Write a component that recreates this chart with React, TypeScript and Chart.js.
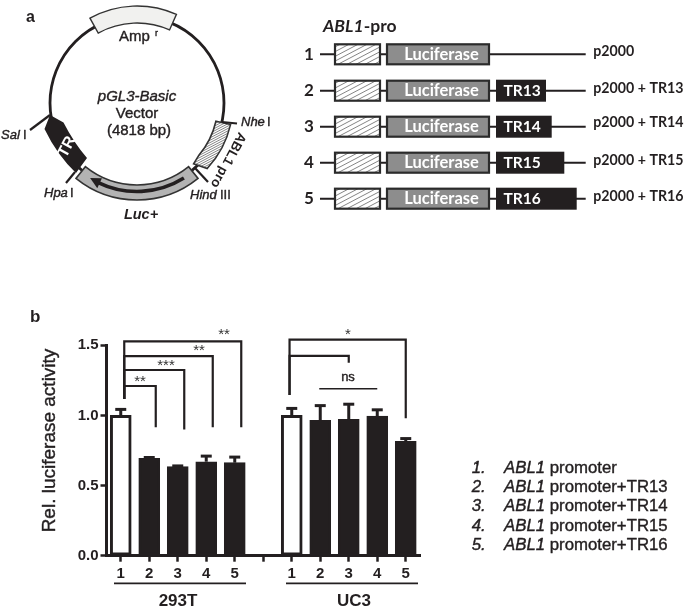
import React, { useEffect, useRef } from "react";
import { Chart, registerables } from "chart.js";

Chart.register(...registerables);

const INK = "#231f20";
const SANS = "'Liberation Sans', Arial, sans-serif";
const LATO = "Lato, 'Open Sans', sans-serif";

const categories = ["1", "2", "3", "4", "5", "", "1", "2", "3", "4", "5"];
const means = [1.0, 0.695, 0.635, 0.67, 0.663, null, 1.0, 0.965, 0.972, 0.995, 0.815];
const errorTops = [1.043, 0.7, 0.64, 0.71, 0.703, null, 1.05, 1.07, 1.08, 1.04, 0.835];
const barFills = ["#ffffff", INK, INK, INK, INK, INK, "#ffffff", INK, INK, INK, INK];
const yTicks = [0, 0.5, 1, 1.5];

const sigLabels = ["**", "***", "**", "**", "*"];
const sigFrom = [0, 0, 0, 0, 6];
const sigTo = [1, 2, 3, 4, 10];
const sigLevels = [1.21, 1.324, 1.423, 1.528, 1.54];
const sigDrops = [0.915, 0.9, 0.915, 0.915, 0.98];
const sigStems = [1.117, 1.117, 1.117, 1.117, 1.145];

const legendNumbers = ["1.", "2.", "3.", "4.", "5."];
const legendSuffixes = [" promoter", " promoter+TR13", " promoter+TR14", " promoter+TR15", " promoter+TR16"];
const constructNumbers = ["1", "2", "3", "4", "5"];
const constructTags = ["", "TR13", "TR14", "TR15", "TR16"];
const constructNames = ["p2000", "p2000 + TR13", "p2000 + TR14", "p2000 + TR15", "p2000 + TR16"];

const CX = 137;
const CY = 103;
const rad = (d: number) => ((d - 90) * Math.PI) / 180;
const pt = (r: number, d: number): [number, number] => [CX + r * Math.cos(rad(d)), CY + r * Math.sin(rad(d))];

function text(ctx: CanvasRenderingContext2D, s: string, x: number, y: number, font: string, align: CanvasTextAlign = "left", color = INK) {
  ctx.font = font;
  ctx.textAlign = align;
  ctx.textBaseline = "middle";
  ctx.fillStyle = color;
  ctx.fillText(s, x, y);
  if (font.includes("Liberation") && !font.includes("bold")) {
    ctx.lineWidth = 0.4;
    ctx.strokeStyle = color;
    ctx.lineJoin = "round";
    ctx.strokeText(s, x, y);
  }
}

function line(ctx: CanvasRenderingContext2D, pts: [number, number][], width = 2.5, color = INK) {
  ctx.beginPath();
  pts.forEach((p, i) => (i ? ctx.lineTo(p[0], p[1]) : ctx.moveTo(p[0], p[1])));
  ctx.lineWidth = width;
  ctx.strokeStyle = color;
  ctx.lineCap = "butt";
  ctx.lineJoin = "miter";
  ctx.stroke();
}

function hatch(ctx: CanvasRenderingContext2D, x0: number, y0: number, x1: number, y1: number, step: number) {
  ctx.lineWidth = 0.9;
  ctx.strokeStyle = "#777";
  ctx.beginPath();
  for (let x = x0 - 150; x < x1 + 20; x += step) {
    ctx.moveTo(x, y1);
    ctx.lineTo(x + (y1 - y0) * 1.9, y0);
  }
  ctx.stroke();
}

function band(ctx: CanvasRenderingContext2D, r0: number, r1: number, a0: number, a1: number) {
  ctx.beginPath();
  ctx.arc(CX, CY, r1, rad(a0), rad(a1));
  ctx.arc(CX, CY, r0, rad(a1), rad(a0), true);
  ctx.closePath();
}

function proPath(ctx: CanvasRenderingContext2D) {
  ctx.beginPath();
  ctx.arc(CX, CY, 96, rad(103), rad(133));
  ctx.lineTo(...pt(83, 137));
  ctx.arc(CX, CY, 81, rad(130), rad(103), true);
  ctx.closePath();
}

function drawPlasmid(ctx: CanvasRenderingContext2D) {
  ctx.beginPath();
  ctx.arc(CX, CY, 87, 0, Math.PI * 2);
  ctx.lineWidth = 2.8;
  ctx.strokeStyle = INK;
  ctx.stroke();

  // Amp r
  band(ctx, 80, 97, -29, 24);
  ctx.fillStyle = "#f1f1ef";
  ctx.fill();
  ctx.lineWidth = 1.4;
  ctx.strokeStyle = "#333";
  ctx.stroke();

  // ABL1 pro, hatched
  proPath(ctx);
  ctx.fillStyle = "#fff";
  ctx.fill();
  ctx.save();
  ctx.clip();
  hatch(ctx, 190, 110, 240, 180, 4.5);
  ctx.restore();
  proPath(ctx);
  ctx.lineWidth = 1.6;
  ctx.strokeStyle = "#333";
  ctx.stroke();

  // TR
  ctx.beginPath();
  ctx.moveTo(50, 115);
  ctx.lineTo(63.5, 122.5);
  ctx.quadraticCurveTo(74, 143, 87, 158);
  ctx.lineTo(76, 173);
  ctx.quadraticCurveTo(57, 155, 44.5, 129);
  ctx.closePath();
  ctx.fillStyle = INK;
  ctx.fill();
  ctx.save();
  ctx.translate(67, 147);
  ctx.rotate((-62 * Math.PI) / 180);
  text(ctx, "TR", 0, 0, `bold 16px ${SANS}`, "center", "#fff");
  ctx.restore();

  // Luc+
  band(ctx, 82, 97, 141, 219);
  ctx.fillStyle = "#b3b3b3";
  ctx.fill();
  ctx.lineWidth = 1.6;
  ctx.strokeStyle = "#333";
  ctx.stroke();
  ctx.beginPath();
  ctx.arc(CX, CY, 88.5, rad(148), rad(206));
  ctx.lineWidth = 3.6;
  ctx.strokeStyle = INK;
  ctx.stroke();
  const head = pt(88.5, 212);
  const h1 = pt(94, 205);
  const h2 = pt(83, 205);
  ctx.beginPath();
  ctx.moveTo(...head);
  ctx.lineTo(...h1);
  ctx.lineTo(...h2);
  ctx.closePath();
  ctx.fillStyle = INK;
  ctx.fill();

  // Restriction sites
  line(ctx, [[30, 130], [50, 115]], 2.2);
  line(ctx, [[66, 183], [75, 172]], 2.2);
  line(ctx, [[195, 168], [208, 182]], 2.2);
  line(ctx, [[222, 122], [237, 123.5]], 2.2);

  const lab = `13px ${SANS}`;
  text(ctx, "Amp", 119, 37, `15px ${SANS}`);
  text(ctx, "r", 155, 34, `9px ${SANS}`);
  text(ctx, "pGL3-Basic", 137, 97, `italic 15px ${SANS}`, "center");
  text(ctx, "Vector", 137, 114, `15px ${SANS}`, "center");
  text(ctx, "(4818 bp)", 139, 131, `15px ${SANS}`, "center");
  text(ctx, "Luc+", 141, 215, `italic bold 14.5px ${SANS}`, "center");
  text(ctx, "Sal", 1, 135, `italic ${lab}`);
  text(ctx, "I", 23, 135, lab);
  text(ctx, "Hpa", 44, 193, `italic ${lab}`);
  text(ctx, "I", 70, 193, lab);
  text(ctx, "Hind", 190, 195, `italic ${lab}`);
  text(ctx, "III", 220, 195, lab);
  text(ctx, "Nhe", 241, 122, `italic ${lab}`);
  text(ctx, "I", 267, 122, lab);

  ctx.save();
  ctx.translate(228, 160);
  ctx.rotate((118 * Math.PI) / 180);
  text(ctx, "ABL1 pro", 0, 0, `bold 13.5px ${SANS}`, "center");
  ctx.restore();
}

function drawConstructs(ctx: CanvasRenderingContext2D) {
  const ys = [54.3, 90.7, 126.7, 162.7, 198.7];
  const nameYs = [51, 88, 122.7, 160, 196.7];
  const tagEnds = [0, 546, 551.7, 564.3, 576.7];

  ctx.font = `italic bold 17.5px ${LATO}`;
  text(ctx, "ABL1", 323, 26, `italic bold 17.5px ${LATO}`);
  const w = ctx.measureText("ABL1").width;
  text(ctx, "-pro", 323 + w, 26, `bold 17.5px ${LATO}`);

  ys.forEach((y, i) => {
    text(ctx, constructNumbers[i], 309, y, `bold 17px ${LATO}`, "center");
    line(ctx, [[320, y], [585.7, y]], 2);
    const h = 20;
    // hatched
    ctx.fillStyle = "#fff";
    ctx.fillRect(335, y - h / 2, 45, h);
    ctx.save();
    ctx.beginPath();
    ctx.rect(335, y - h / 2, 45, h);
    ctx.clip();
    hatch(ctx, 335, y - h / 2, 380, y + h / 2, 9);
    ctx.restore();
    ctx.lineWidth = 2.2;
    ctx.strokeStyle = "#2b2b2b";
    ctx.strokeRect(335, y - h / 2, 45, h);
    // luciferase
    ctx.fillStyle = "#8d8d8d";
    ctx.fillRect(387, y - h / 2, 102, h);
    ctx.strokeRect(387, y - h / 2, 102, h);
    text(ctx, "Luciferase", 441.5, y, `bold 16.5px ${LATO}`, "center", "#fff");
    if (constructTags[i]) {
      ctx.fillStyle = INK;
      ctx.fillRect(496, y - h / 2 - 1, tagEnds[i] - 496, h + 2);
      text(ctx, constructTags[i], 503.5, y, `bold 15.5px ${LATO}`, "left", "#fff");
    }
    text(ctx, constructNames[i], 593.3, nameYs[i], `bold 14.2px ${LATO}`);
  });
}

function drawBarNotes(ctx: CanvasRenderingContext2D, chart: Chart) {
  const x = chart.scales.x;
  const y = chart.scales.y;
  const X = (i: number) => x.getPixelForValue(i);
  const Y = (v: number) => y.getPixelForValue(v);

  // Y axis title
  ctx.save();
  ctx.translate(50, 440.5);
  ctx.rotate(-Math.PI / 2);
  text(ctx, "Rel. luciferase activity", 0, 0, `19px ${SANS}`, "center");
  ctx.restore();

  // Error bars
  means.forEach((m, i) => {
    const top = errorTops[i];
    if (m == null || top == null) return;
    const cx = X(i);
    line(ctx, [[cx, Y(m)], [cx, Y(top)]], 3);
    line(ctx, [[cx - 5.5, Y(top)], [cx + 5.5, Y(top)]], 3);
  });

  // Significance brackets
  sigLabels.forEach((label, i) => {
    const off = sigFrom[i] === 0 ? 3.5 : -2.2;
    const x0 = X(sigFrom[i]) + off;
    const x1 = X(sigTo[i]) + (sigFrom[i] === 0 ? 6.5 : 0);
    const yb = Y(sigLevels[i]);
    line(ctx, [[x0, Y(sigStems[i])], [x0, yb], [x1, yb], [x1, Y(sigDrops[i])]], 2.2);
  });
  const starX = [140, 166, 199, 224, 348];
  const starY = [382, 366, 351, 335, 335];
  ctx.font = `15px ${LATO}`;
  sigLabels.forEach((label, i) => {
    ctx.font = `15px ${SANS}`;
    ctx.textAlign = "center";
    ctx.textBaseline = "middle";
    ctx.fillStyle = "#333";
    ctx.fillText(label, starX[i], starY[i]);
  });

  // ns
  line(ctx, [[X(6) - 2.2, Y(1.145)], [X(6) - 2.2, Y(1.425)], [X(8), Y(1.425)], [X(8), Y(1.375)]], 2.2);
  line(ctx, [[X(7) - 1, Y(1.19)], [X(9), Y(1.19)]], 1.5);
  text(ctx, "ns", 348, 377, `13px ${SANS}`, "center");

  // Groups
  line(ctx, [[114, 583.3], [246, 583.3]], 1.8);
  line(ctx, [[286, 583.3], [418, 583.3]], 1.8);
  text(ctx, "293T", 178, 601, `bold 17px ${SANS}`, "center");
  text(ctx, "UC3", 354, 601, `bold 17px ${SANS}`, "center");
}

function drawLegend(ctx: CanvasRenderingContext2D) {
  const ys = [468.3, 487.5, 506.7, 526, 545];
  ys.forEach((y, i) => {
    text(ctx, legendNumbers[i], 471.7, y, `italic 16.8px ${SANS}`);
    const f = `italic 16.8px ${SANS}`;
    text(ctx, "ABL1", 504, y, f);
    const w = ctx.measureText("ABL1").width;
    text(ctx, legendSuffixes[i], 504 + w, y, `16.8px ${SANS}`);
  });
}

const notes = {
  id: "notes",
  afterDraw(chart: Chart) {
    const ctx = chart.ctx;
    ctx.save();
    text(ctx, "a", 26, 18, `bold 16px ${SANS}`);
    text(ctx, "b", 30, 317, `bold 17px ${SANS}`);
    drawPlasmid(ctx);
    drawConstructs(ctx);
    drawBarNotes(ctx, chart);
    drawLegend(ctx);
    ctx.restore();
  },
};

export default function App() {
  const ref = useRef<HTMLCanvasElement>(null);
  useEffect(() => {
    const chart = new Chart(ref.current!, {
      type: "bar",
      data: {
        labels: categories,
        datasets: [
          {
            data: means,
            backgroundColor: barFills,
            borderColor: INK,
            borderWidth: 3,
            borderSkipped: false,
            barThickness: 21,
          },
        ],
      },
      options: {
        animation: false,
        responsive: false,
        layout: { padding: { top: 345.3, right: 265, left: 0, bottom: 0 } },
        plugins: { legend: { display: false }, tooltip: { enabled: false }, title: { display: false } },
        scales: {
          x: {
            offset: true,
            grid: { display: true, drawOnChartArea: false, offset: false, tickLength: 6, tickWidth: 2.5, tickColor: INK },
            border: { display: true, width: 3, color: INK },
            ticks: { color: INK, font: { family: SANS, size: 15, weight: "bold" }, padding: 3, maxRotation: 0, autoSkip: false },
            afterFit(s: any) {
              s.height = 53.3;
            },
          },
          y: {
            min: 0,
            max: 1.5,
            afterBuildTicks(s: any) {
              s.ticks = yTicks.map((value) => ({ value }));
            },
            grid: { display: true, drawOnChartArea: false, tickLength: 6, tickWidth: 2.5, tickColor: INK },
            border: { display: true, width: 3, color: INK },
            ticks: {
              color: INK,
              padding: 2,
              font: { family: SANS, size: 15, weight: "bold" },
              callback: (v: any) => Number(v).toFixed(1),
            },
            afterFit(s: any) {
              s.width = 106.5;
            },
          },
        },
      },
      plugins: [notes],
    } as any);
    return () => chart.destroy();
  }, []);
  return (
    <div style={{ position: "fixed", left: 0, top: 0, width: 685, height: 609, background: "#fff" }}>
      <canvas ref={ref} width={685} height={609} style={{ display: "block" }} />
    </div>
  );
}
